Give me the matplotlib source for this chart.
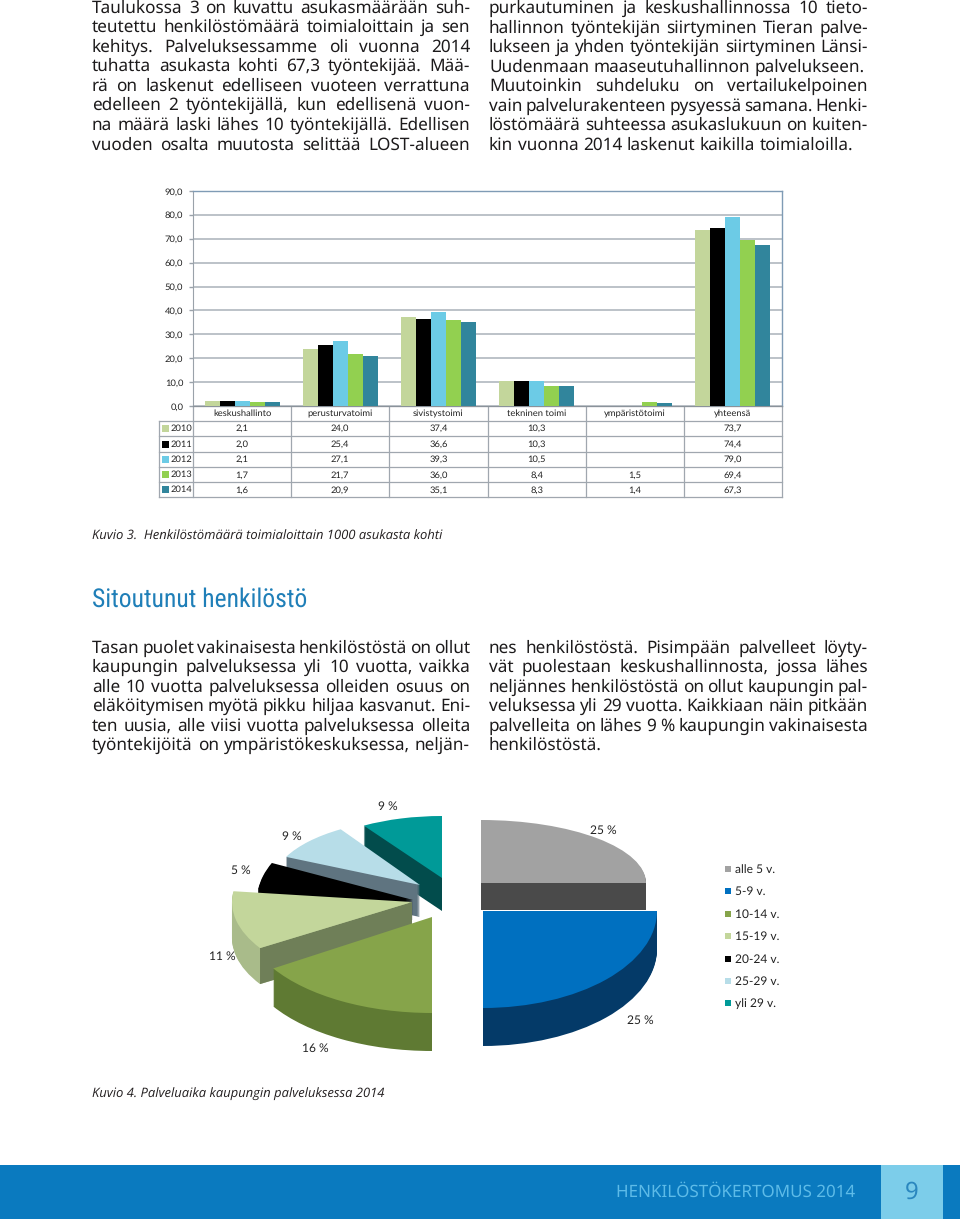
import numpy as np
import matplotlib
matplotlib.use("Agg")
import matplotlib.pyplot as plt
from matplotlib.patches import Rectangle

plt.rcParams["text.hinting"] = "no_hinting"

W, H = 960, 1224
BODY = "Noto Sans"
LABEL = "Lato"
CAPTION = "Open Sans"
HEADING = ["Roboto Condensed", "Roboto"]
TABLE_SIZE = 9.4

# bar chart data
categories = ["keskushallinto", "perusturvatoimi", "sivistystoimi",
              "tekninen toimi", "ympäristötoimi", "yhteensä"]
years = ["2010", "2011", "2012", "2013", "2014"]
v2010 = [2.1, 24.0, 37.4, 10.3, None, 73.7]
v2011 = [2.0, 25.4, 36.6, 10.3, None, 74.4]
v2012 = [2.1, 27.1, 39.3, 10.5, None, 79.0]
v2013 = [1.7, 21.7, 36.0, 8.4, 1.5, 69.4]
v2014 = [1.6, 20.9, 35.1, 8.3, 1.4, 67.3]
bar_colors = ["#c3d69b", "#000000", "#6ccbe6", "#92d050", "#31859c"]

# pie data
pie_labels = ["alle 5 v.", "5-9 v.", "10-14 v.", "15-19 v.", "20-24 v.", "25-29 v.", "yli 29 v."]
pie_shares = [25, 25, 16, 11, 5, 9, 9]
pie_colors = ["#a2a2a2", "#0070c0", "#86a44a", "#c3d69b", "#000000", "#b7dde8", "#009a98"]
pie_sides = ["#4a4a4a", "#043a68", "#5f7a33", "#a9bb8a", "#000000", "#5f7480", "#024c4c"]

para_top_left = [
    "Taulukossa 3 on kuvattu asukasmäärään suh-",
    "teutettu henkilöstömäärä toimialoittain ja sen",
    "kehitys. Palveluksessamme oli vuonna 2014",
    "tuhatta asukasta kohti 67,3 työntekijää. Mää-",
    "rä on laskenut edelliseen vuoteen verrattuna",
    "edelleen 2 työntekijällä, kun edellisenä vuon-",
    "na määrä laski lähes 10 työntekijällä. Edellisen",
    "vuoden osalta muutosta selittää LOST-alueen",
]
para_top_right = [
    "purkautuminen ja keskushallinnossa 10 tieto-",
    "hallinnon työntekijän siirtyminen Tieran palve-",
    "lukseen ja yhden työntekijän siirtyminen Länsi-",
    "Uudenmaan maaseutuhallinnon palvelukseen.",
    "Muutoinkin suhdeluku on vertailukelpoinen",
    "vain palvelurakenteen pysyessä samana. Henki-",
    "löstömäärä suhteessa asukaslukuun on kuiten-",
    "kin vuonna 2014 laskenut kaikilla toimialoilla.",
]
para_mid_left = [
    "Tasan puolet vakinaisesta henkilöstöstä on ollut",
    "kaupungin palveluksessa yli 10 vuotta, vaikka",
    "alle 10 vuotta palveluksessa olleiden osuus on",
    "eläköitymisen myötä pikku hiljaa kasvanut. Eni-",
    "ten uusia, alle viisi vuotta palveluksessa olleita",
    "työntekijöitä on ympäristökeskuksessa, neljän-",
]
para_mid_right = [
    "nes henkilöstöstä. Pisimpään palvelleet löyty-",
    "vät puolestaan keskushallinnosta, jossa lähes",
    "neljännes henkilöstöstä on ollut kaupungin pal-",
    "veluksessa yli 29 vuotta. Kaikkiaan näin pitkään",
    "palvelleita on lähes 9 % kaupungin vakinaisesta",
    "henkilöstöstä.",
]


def fi(v):
    return "" if v is None else f"{v:.1f}".replace(".", ",")


def px(size):
    return size * 0.72


fig = plt.figure(figsize=(W / 100, H / 100), dpi=100)
page = fig.add_axes([0, 0, 1, 1])
page.set_xlim(0, W)
page.set_ylim(H, 0)
page.axis("off")
renderer = fig.canvas.get_renderer()


def put_line(line, x0, x1, y, size, justify=True, color="#1c1a1b"):
    words = line.split(" ")
    arts = [page.text(0, y, w, fontsize=px(size), family=BODY, color=color, va="baseline") for w in words]
    widths = [a.get_window_extent(renderer).width for a in arts]
    sp = size * 0.26
    if justify and len(words) > 1:
        sp = (x1 - x0 - sum(widths)) / (len(words) - 1)
    x = x0
    for a, w in zip(arts, widths):
        a.set_x(x)
        x += w + sp


def put_para(lines, x0, x1, y0, dy, size, last=()):
    for i, line in enumerate(lines):
        put_line(line, x0, x1, y0 + i * dy, size, justify=i not in last)


put_para(para_top_left, 92, 470, 12.5, 19.55, 17.2)
put_para(para_top_right, 489, 868, 13, 19.5, 17.2, last=(3, 7))
put_para(para_mid_left, 92, 470, 652.5, 19.5, 17.2)
put_para(para_mid_right, 489, 868, 652.5, 19.5, 17.2, last=(5,))

# bar chart
bx0, bx1, by0, by1 = 193, 782, 191, 406
ax = fig.add_axes([bx0 / W, 1 - by1 / H, (bx1 - bx0) / W, (by1 - by0) / H])
series = [v2010, v2011, v2012, v2013, v2014]
x = np.arange(len(categories))
bw = 0.153
for i, vals in enumerate(series):
    heights = [np.nan if v is None else v for v in vals]
    ax.bar(x + (i - 2) * bw, heights, bw, color=bar_colors[i], zorder=3)
ax.set_xlim(-0.5, 5.5)
ax.set_ylim(0, 90)
ax.set_yticks(np.arange(0, 91, 10))
ax.set_yticklabels([fi(float(t)) for t in range(0, 91, 10)], fontsize=px(TABLE_SIZE),
                   family=LABEL, color="#222222")
ax.set_xticks([])
ax.tick_params(axis="y", length=3, width=1, color="#9aa2aa", pad=4)
ax.grid(axis="y", color="#aab1b9", lw=1.1, zorder=1)
ax.set_axisbelow(True)
for side in ["top", "right"]:
    ax.spines[side].set_color("#7f9bb5")
    ax.spines[side].set_linewidth(1.0)
ax.spines["left"].set_color("#9aa2aa")
ax.spines["bottom"].set_color("#8a929a")

# data table under the bars
row_y = [406, 421, 436.3, 452, 467.3, 482.3, 497.3]
cell = (bx1 - bx0) / len(categories)
line_c = "#a0a7af"
for j, yy in enumerate(row_y):
    page.plot([159 if j > 0 else bx0, bx1], [yy, yy], color=line_c, lw=0.9)
for k in range(len(categories) + 1):
    page.plot([bx0 + k * cell] * 2, [row_y[0], row_y[-1]], color=line_c, lw=0.9)
page.plot([159, 159], [row_y[1], row_y[-1]], color=line_c, lw=0.9)
for k, c in enumerate(categories):
    page.text(bx0 + (k + 0.5) * cell, (row_y[0] + row_y[1]) / 2, c, ha="center", va="center",
              fontsize=px(TABLE_SIZE), family=LABEL, color="#222222")
for i, vals in enumerate(series):
    ym = (row_y[i + 1] + row_y[i + 2]) / 2
    page.add_patch(Rectangle((162, ym - 3.5), 7, 7, color=bar_colors[i], lw=0))
    page.text(171, ym, years[i], va="center", fontsize=px(TABLE_SIZE), family=LABEL, color="#222222")
    for k, v in enumerate(vals):
        page.text(bx0 + (k + 0.5) * cell, ym, fi(v), ha="center", va="center",
                  fontsize=px(TABLE_SIZE), family=LABEL, color="#222222")

page.text(92, 540, "Kuvio 3.  Henkilöstömäärä toimialoittain 1000 asukasta kohti", va="baseline",
          fontsize=px(13), family=CAPTION, style="italic", color="#231f20")
page.text(92, 607, "Sitoutunut henkilöstö", va="baseline", fontsize=px(25.6),
          family=HEADING, color="#1f7fb8")
page.text(92, 1098, "Kuvio 4. Palveluaika kaupungin palveluksessa 2014", va="baseline",
          fontsize=px(13), family=CAPTION, style="italic", color="#231f20")


# exploded 3d-looking pie: every slice gets its own centre, radii and thickness in pixels
slice_geom = {
    # index: cx, cy, rx, ry, depth
    0: (481, 883, 165, 63, 27),
    1: (483, 911, 174, 97, 38),
    2: (432, 917, 188, 96, 38),
    3: (412, 902, 180, 86, 36),
    4: (413, 900, 156, 87, 20),
    5: (420, 885, 148, 66, 32),
    6: (442, 878, 146, 62, 33),
}
starts = 90 - 3.6 * np.cumsum([0] + pie_shares[:-1])
for i in [6, 5, 4, 3, 2, 0, 1]:
    cx, cy, rx, ry, depth = slice_geom[i]
    m = 1.25
    sa = fig.add_axes([(cx - m * rx) / W, 1 - (cy + m * ry + depth) / H,
                       2 * m * rx / W, (2 * m * ry + depth) / H], zorder=2)
    frac = pie_shares[i] / 100
    for k in range(depth, 0, -1):
        sa.pie([frac, 1 - frac], startangle=starts[i], counterclock=False,
               colors=[pie_sides[i], "none"], center=(0, -k / ry), radius=1,
               wedgeprops={"linewidth": 0})
    if i == 3:
        # cut face of the pale green slice is darker than its rim
        a = np.deg2rad(starts[i])
        d = depth / ry
        sa.fill([0, np.cos(a), np.cos(a), 0], [0, np.sin(a), np.sin(a) - d, -d],
                color="#6f7f58", lw=0, zorder=5)
    w, _ = sa.pie([frac, 1 - frac], startangle=starts[i], counterclock=False,
                  colors=[pie_colors[i], "none"], center=(0, 0), radius=1,
                  wedgeprops={"linewidth": 0})
    for p in w:
        p.set_zorder(6)
    sa.set_aspect("auto")
    sa.set_xlim(-m, m)
    sa.set_ylim(-m - depth / ry, m)
    sa.axis("off")

pie_text_pos = [(603, 830), (640, 1020), (315, 1048), (222, 956), (241, 871), (292, 836), (388, 807)]
for share, (tx, ty) in zip(pie_shares, pie_text_pos):
    page.text(tx, ty, f"{share} %", ha="center", va="center", fontsize=px(12),
              family=LABEL, color="#222222")

legend_y = [870, 892, 915, 937, 960, 982, 1004]
for name, c, yy in zip(pie_labels, pie_colors, legend_y):
    page.add_patch(Rectangle((725, yy - 4), 6, 6, color=c, lw=0))
    page.text(735, yy, name, va="center", fontsize=px(12), family=LABEL, color="#222222")

# footer band
page.add_patch(Rectangle((0, 1165), W, 54, color="#0a7abf", lw=0))
page.add_patch(Rectangle((881, 1165), 62, 54, color="#7ccdea", lw=0))
page.text(616, 1192, "HENKILÖSTÖKERTOMUS 2014", va="center", fontsize=px(17), family=BODY, color="#5dbbe8")
page.text(912, 1193, "9", ha="center", va="center", fontsize=px(24), family=BODY, color="#2a87bf")

fig.savefig("out.png", dpi=100)
